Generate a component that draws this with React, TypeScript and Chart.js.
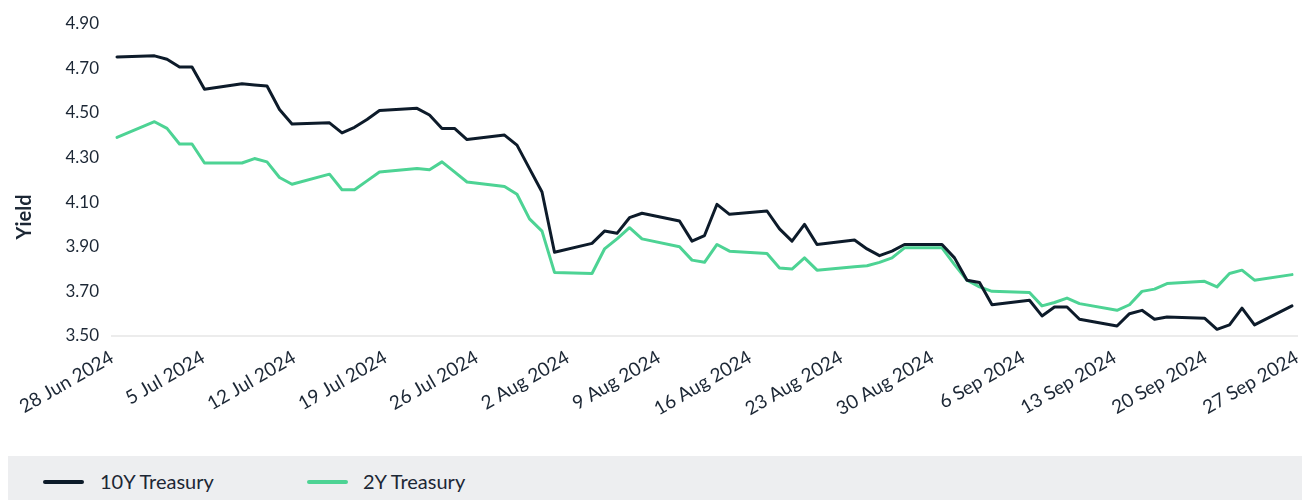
import React, { useEffect, useRef } from "react";
import { Chart, registerables } from "chart.js";

Chart.register(...registerables);

// ---- data ----
const dates = [
  "2024-06-28",
  "2024-07-01", "2024-07-02", "2024-07-03", "2024-07-04", "2024-07-05",
  "2024-07-08", "2024-07-09", "2024-07-10", "2024-07-11", "2024-07-12",
  "2024-07-15", "2024-07-16", "2024-07-17", "2024-07-18", "2024-07-19",
  "2024-07-22", "2024-07-23", "2024-07-24", "2024-07-25", "2024-07-26",
  "2024-07-29", "2024-07-30", "2024-07-31", "2024-08-01", "2024-08-02",
  "2024-08-05", "2024-08-06", "2024-08-07", "2024-08-08", "2024-08-09",
  "2024-08-12", "2024-08-13", "2024-08-14", "2024-08-15", "2024-08-16",
  "2024-08-19", "2024-08-20", "2024-08-21", "2024-08-22", "2024-08-23",
  "2024-08-26", "2024-08-27", "2024-08-28", "2024-08-29", "2024-08-30",
  "2024-09-02", "2024-09-03", "2024-09-04", "2024-09-05", "2024-09-06",
  "2024-09-09", "2024-09-10", "2024-09-11", "2024-09-12", "2024-09-13",
  "2024-09-16", "2024-09-17", "2024-09-18", "2024-09-19", "2024-09-20",
  "2024-09-23", "2024-09-24", "2024-09-25", "2024-09-26", "2024-09-27",
  "2024-09-30",
];

const tenYear = [
  4.75,
  4.755, 4.74, 4.705, 4.705, 4.605,
  4.63, 4.625, 4.62, 4.515, 4.45,
  4.455, 4.41, 4.435, 4.47, 4.51,
  4.52, 4.49, 4.43, 4.43, 4.38,
  4.40, 4.355, 4.25, 4.145, 3.875,
  3.915, 3.97, 3.96, 4.03, 4.05,
  4.015, 3.925, 3.95, 4.09, 4.045,
  4.06, 3.98, 3.925, 4.0, 3.91,
  3.93, 3.89, 3.86, 3.88, 3.91,
  3.91, 3.85, 3.75, 3.74, 3.64,
  3.66, 3.59, 3.63, 3.63, 3.575,
  3.545, 3.60, 3.615, 3.575, 3.585,
  3.58, 3.53, 3.55, 3.625, 3.55,
  3.635,
];

const twoYear = [
  4.39,
  4.46, 4.43, 4.36, 4.36, 4.275,
  4.275, 4.295, 4.28, 4.21, 4.18,
  4.225, 4.155, 4.155, 4.195, 4.235,
  4.25, 4.245, 4.28, 4.235, 4.19,
  4.17, 4.135, 4.025, 3.97, 3.785,
  3.78, 3.89, 3.935, 3.985, 3.935,
  3.90, 3.84, 3.83, 3.91, 3.88,
  3.87, 3.805, 3.80, 3.85, 3.795,
  3.81, 3.815, 3.83, 3.85, 3.895,
  3.895, 3.82, 3.75, 3.72, 3.70,
  3.695, 3.635, 3.65, 3.67, 3.645,
  3.615, 3.64, 3.70, 3.71, 3.735,
  3.745, 3.72, 3.78, 3.795, 3.75,
  3.775,
];

const tickLabels = [
  "28 Jun 2024", "5 Jul 2024", "12 Jul 2024", "19 Jul 2024", "26 Jul 2024",
  "2 Aug 2024", "9 Aug 2024", "16 Aug 2024", "23 Aug 2024", "30 Aug 2024",
  "6 Sep 2024", "13 Sep 2024", "20 Sep 2024", "27 Sep 2024",
];

const yTicks = [3.5, 3.7, 3.9, 4.1, 4.3, 4.5, 4.7, 4.9];

const seriesNames = ["10Y Treasury", "2Y Treasury"];
const yTitle = "Yield";

// ---- styles ----
const FONT = "Lato";
const TEXT = "#1c2735";
const COLORS = ["#0d1b2a", "#4dd394"];
const LEGEND_BG = "#edeef0";

const START = Date.UTC(2024, 5, 28);
const dayIndex = (s: string) => {
  const [y, m, d] = s.split("-").map(Number);
  return (Date.UTC(y, m - 1, d) - START) / 86400000;
};

const yTitlePlugin = {
  id: "yTitleText",
  afterDraw(chart: any) {
    const ctx = chart.ctx;
    ctx.save();
    ctx.translate(17, 209);
    ctx.rotate(-Math.PI / 2);
    ctx.font = `bold 20px ${FONT}`;
    ctx.fillStyle = TEXT;
    ctx.textAlign = "center";
    ctx.textBaseline = "middle";
    ctx.fillText(yTitle, 0, 0);
    ctx.restore();
  },
};

export default function App() {
  const canvasRef = useRef<HTMLCanvasElement | null>(null);

  useEffect(() => {
    if (!canvasRef.current) return;
    const series = [tenYear, twoYear];
    const chart = new Chart(canvasRef.current, {
      type: "line",
      data: {
        datasets: series.map((vals, k) => ({
          label: seriesNames[k],
          data: dates.map((d, i) => ({ x: dayIndex(d), y: vals[i] })),
          xAxisID: "xd",
          yAxisID: "y",
          borderColor: COLORS[k],
          backgroundColor: COLORS[k],
          borderWidth: 3,
          pointRadius: 0,
          pointHoverRadius: 0,
          tension: 0,
          borderJoinStyle: "round",
          borderCapStyle: "round",
        })),
      },
      options: {
        animation: false,
        responsive: true,
        maintainAspectRatio: false,
        layout: { padding: { top: 15.5, right: 5, left: 0, bottom: 0 } },
        plugins: {
          legend: { display: false },
          tooltip: { enabled: false },
        },
        scales: {
          xd: {
            type: "linear",
            display: false,
            min: -0.4,
            max: 94.4,
          },
          x: {
            type: "linear",
            position: "bottom",
            min: 0,
            max: tickLabels.length - 1,
            afterBuildTicks: (s: any) => {
              s.ticks = tickLabels.map((_, i) => ({ value: i }));
            },
            afterFit: (s: any) => {
              s.height = 120;
              s.paddingLeft = 0;
              s.paddingRight = 0;
            },
            grid: { display: false, drawTicks: false },
            border: { display: true, color: "#ececec", width: 2 },
            ticks: {
              autoSkip: false,
              maxRotation: 30,
              minRotation: 30,
              padding: 10,
              color: TEXT,
              font: { family: FONT, size: 19 },
              callback: (_v: any, i: number) => tickLabels[i],
            },
          },
          y: {
            type: "linear",
            min: yTicks[0],
            max: yTicks[yTicks.length - 1],
            afterBuildTicks: (s: any) => {
              s.ticks = yTicks.map((v) => ({ value: v }));
            },
            afterFit: (s: any) => {
              s.width = 104;
              s.paddingTop = 0;
              s.paddingBottom = 0;
            },
            grid: { display: false, drawTicks: false },
            border: { display: false },
            ticks: {
              padding: 13,
              color: TEXT,
              font: { family: FONT, size: 17 },
              callback: (v: any) => Number(v).toFixed(2),
            },
          },
        },
      },
      plugins: [yTitlePlugin],
    } as any);
    return () => chart.destroy();
  }, []);

  const legendItems = [
    { line: 35, text: 92 },
    { line: 299, text: 355 },
  ];

  return (
    <div style={{ position: "fixed", left: 8, top: 8, width: 1294, height: 492, background: "#fff" }}>
      <div style={{ position: "absolute", left: 0, top: 0, width: 1294, height: 448 }}>
        <canvas ref={canvasRef} />
      </div>
      <div
        style={{
          position: "absolute",
          left: 0,
          top: 448,
          width: 1294,
          height: 44,
          background: LEGEND_BG,
          fontFamily: FONT,
          fontSize: 20,
          color: TEXT,
        }}
      >
        {seriesNames.map((name, k) => (
          <React.Fragment key={name}>
            <span
              style={{
                position: "absolute",
                left: legendItems[k].line,
                top: 24,
                width: 41,
                height: 4,
                borderRadius: 2,
                background: COLORS[k],
              }}
            />
            <span
              style={{
                position: "absolute",
                left: legendItems[k].text,
                top: 14,
                lineHeight: "22px",
                whiteSpace: "nowrap",
              }}
            >
              {name}
            </span>
          </React.Fragment>
        ))}
      </div>
    </div>
  );
}
